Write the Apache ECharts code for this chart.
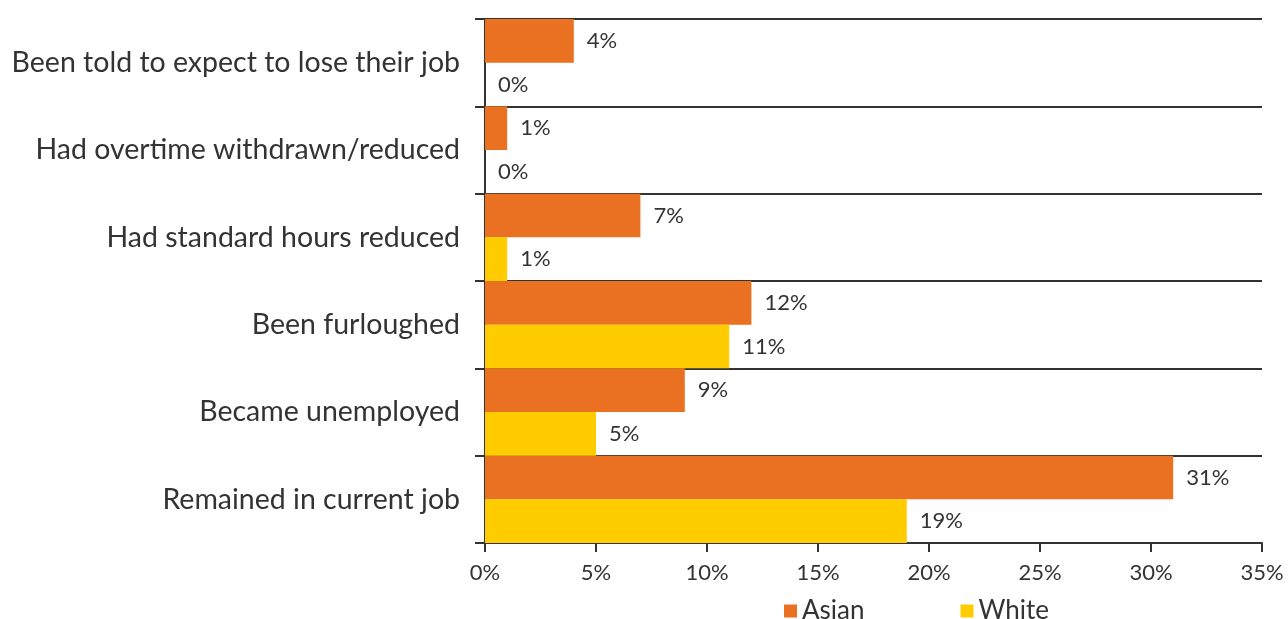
<!DOCTYPE html>
<html>
<head>
<meta charset="utf-8">
<script src="https://cdn.jsdelivr.net/npm/echarts@6/dist/echarts.min.js"></script>
<style>
  html, body { margin: 0; padding: 0; background: #fff; }
  #chart { width: 1288px; height: 619px; }
</style>
</head>
<body>
<div id="chart"></div>
<script>
// Employment outcomes, listed top to bottom
const categories = [
  'Been told to expect to lose their job',
  'Had overtime withdrawn/reduced',
  'Had standard hours reduced',
  'Been furloughed',
  'Became unemployed',
  'Remained in current job'
];
const asianValues = [4, 1, 7, 12, 9, 31];
const whiteValues = [0, 0, 1, 11, 5, 19];
const seriesNames = ['Asian', 'White'];
const seriesColors = ['#EA7121', '#FFCC00'];

const ink = '#333333';
const fontFamily = 'Lato, "Open Sans", sans-serif';

const chart = echarts.init(document.getElementById('chart'), null, { renderer: 'canvas' });

const valueLabel = {
  show: true,
  position: 'right',
  distance: 13,
  formatter: p => p.value + '%',
  color: ink,
  fontSize: 22,
  fontFamily
};

chart.setOption({
  animation: false,
  grid: { left: 485, right: 26, top: 19, bottom: 76, containLabel: false },
  legend: {
    top: 596,
    left: 784,
    padding: 0,
    itemWidth: 13,
    itemHeight: 13,
    itemGap: 96,
    icon: 'rect',
    textStyle: { color: ink, fontSize: 26, fontFamily, lineHeight: 30 },
    data: seriesNames
  },
  xAxis: {
    type: 'value',
    min: 0,
    max: 35,
    interval: 5,
    axisLine: { show: true, lineStyle: { color: ink, width: 2 } },
    axisTick: { show: true, length: 9, lineStyle: { color: ink, width: 2 } },
    splitLine: { show: false },
    axisLabel: { formatter: v => v + '%', color: ink, fontSize: 22, fontFamily, margin: 19 }
  },
  yAxis: {
    type: 'category',
    inverse: true,
    data: categories,
    axisLine: { show: true, lineStyle: { color: ink, width: 2 } },
    axisTick: { show: true, length: 10, lineStyle: { color: ink, width: 2 } },
    splitLine: { show: true, lineStyle: { color: ink, width: 2 } },
    axisLabel: { color: ink, fontSize: 28.5, fontFamily, margin: 25 }
  },
  series: [
    {
      name: seriesNames[0],
      type: 'bar',
      data: asianValues,
      itemStyle: { color: seriesColors[0] },
      barCategoryGap: 0,
      barGap: 0,
      label: valueLabel
    },
    {
      name: seriesNames[1],
      type: 'bar',
      data: whiteValues,
      itemStyle: { color: seriesColors[1] },
      barCategoryGap: 0,
      barGap: 0,
      label: valueLabel
    }
  ]
});
</script>
</body>
</html>
